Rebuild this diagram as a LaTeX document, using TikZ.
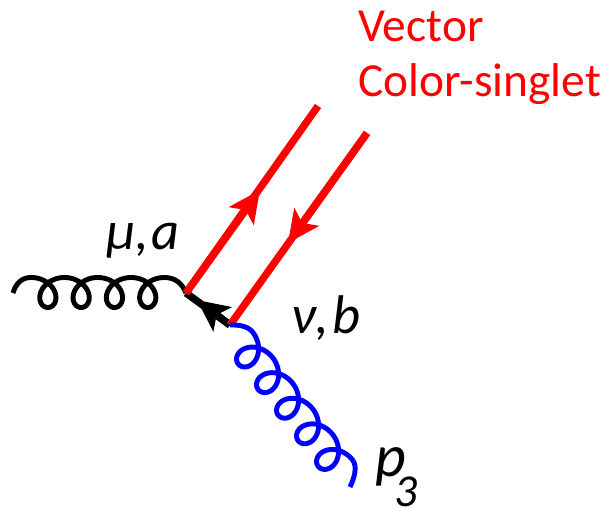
\documentclass[tikz,border=0pt]{standalone}
\usepackage{fontspec}
\setmainfont{Carlito}
\usetikzlibrary{arrows.meta}
\tikzset{
  gluon/.style={line width=2.8pt, samples=500, variable=\t},
  quark/.style={line width=4.2pt, red},
  tiphead/.style={-{Stealth[length=18pt, width=17pt, inset=4pt]}},
  biglabel/.style={font=\fontsize{31}{36}\selectfont\itshape, anchor=base west, inner sep=0pt},
  redlabel/.style={red, font=\fontsize{27}{32}\selectfont, anchor=base west, inner sep=0pt}
}
\begin{document}
\begin{tikzpicture}[x=0.02cm, y=-0.02cm]
  \useasboundingbox (0,0) rectangle (606,510);
  \coordinate (gstart) at (13,293);
  \coordinate (vmu) at (186,293);
  \coordinate (vnu) at (230,325);
  \coordinate (gend) at (350,487);
  \coordinate (qout) at (318,106);
  \coordinate (qin) at (367,133);
  \coordinate (tipup) at (260,190);
  \coordinate (tipdown) at (288,243);
  \coordinate (tipblack) at (197,300);
  % gluons and propagator
  \draw[gluon, black] (gstart) .. controls (16,283) and (22,277.5) .. (31,277.5)
    -- plot[domain=-6.283:18.85] ({64.5+5.3*\t+15.5*sin(\t r)},{292.5-15*cos(\t r)})
    .. controls (175,277.5) and (182,283) .. (vmu);
  \draw[line width=4.2pt, black] (vnu) -- (vmu);
  \draw[line width=4.2pt, black, tiphead] (vnu) -- (tipblack);
  % colour-singlet pair
  \draw[quark] (vmu) -- (qout);
  \draw[quark, tiphead] (vmu) -- (tipup);
  \draw[quark] (qin) -- (vnu);
  \draw[quark, tiphead] (qin) -- (tipdown);
  \begin{scope}[shift={(vnu)}, rotate=-52]
    \draw[gluon, blue] (vnu) .. controls (5,-7) and (12,-13.5) .. (19.5,-13.5)
      -- plot[domain=0:31.416] ({19.5+5.17*\t+16*sin(\t r)},{2-15.5*cos(\t r)})
      .. controls (190,-13.5) and (197,-4) .. (gend);
  \end{scope}
  % labels
  \node[redlabel] (lvector) at (358,42) {Vector};
  \node[redlabel] (lsinglet) at (358,97) {Color-singlet};
  \node[biglabel] (lmu) at (106,250) {μ,\kern1pt a};
  \node[biglabel] (lnu) at (291,334) {ν,\kern2pt b};
  \node[biglabel, font=\fontsize{34}{40}\selectfont\itshape] (lp) at (375,477) {p};
  \node[biglabel, font=\fontsize{26}{30}\selectfont\itshape] (lthree) at (394,506) {3};
\end{tikzpicture}
\end{document}
